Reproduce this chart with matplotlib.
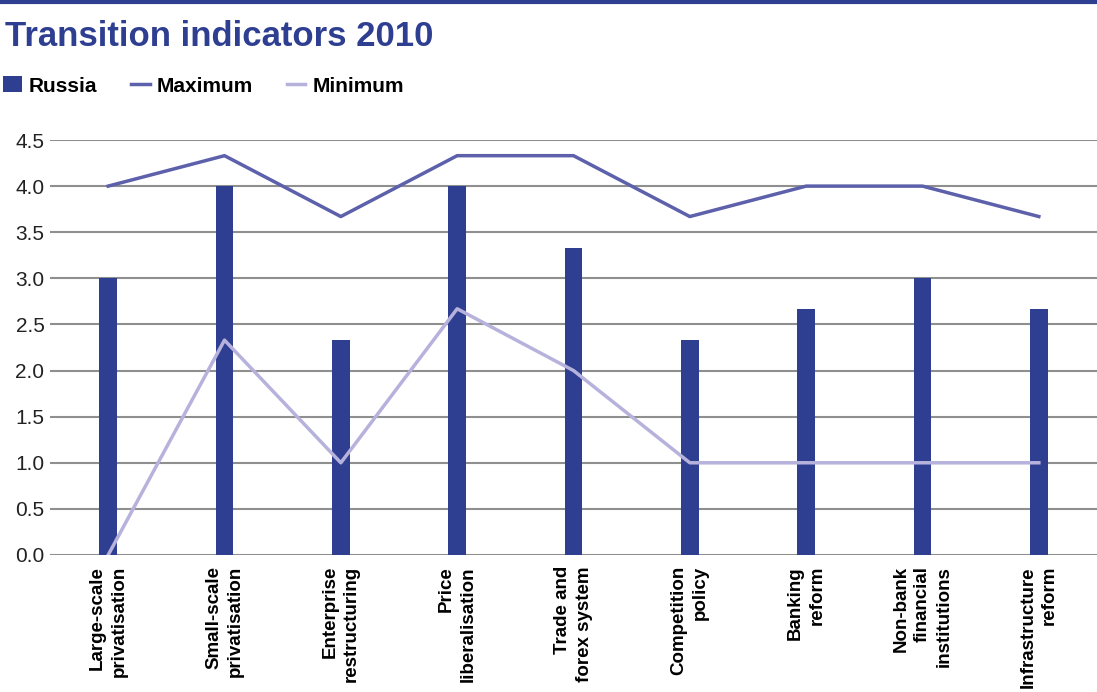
import matplotlib.pyplot as plt
from matplotlib.patches import Patch
from matplotlib.lines import Line2D
import numpy as np

categories = ["Large-scale\nprivatisation", "Small-scale\nprivatisation", "Enterprise\nrestructuring",
              "Price\nliberalisation", "Trade and\nforex system", "Competition\npolicy",
              "Banking\nreform", "Non-bank\nfinancial\ninstitutions", "Infrastructure\nreform"]
russia = [3.0, 4.0, 2.33, 4.0, 3.33, 2.33, 2.67, 3.0, 2.67]
maximum = [4.0, 4.33, 3.67, 4.33, 4.33, 3.67, 4.0, 4.0, 3.67]
minimum = [0.0, 2.33, 1.0, 2.67, 2.0, 1.0, 1.0, 1.0, 1.0]
yticks = [0.0, 0.5, 1.0, 1.5, 2.0, 2.5, 3.0, 3.5, 4.0, 4.5]

dark = "#2e3f91"
maxc = "#5d60aa"
minc = "#b6b2dc"

plt.rcParams['font.family'] = ['Liberation Sans', 'DejaVu Sans']

fig = plt.figure(figsize=(10.97, 6.92), dpi=100)
ax = fig.add_axes([50/1097, 1-555/692, 1-50/1097, (555-140)/692])

x = np.arange(len(categories))
ax.bar(x, russia, width=0.15, color=dark, zorder=2)
ax.plot(x, maximum, color=maxc, lw=2.5, zorder=3)
ax.plot(x, minimum, color=minc, lw=2.5, zorder=3)

ax.set_xlim(-0.5, 8.5)
ax.set_ylim(0, 4.5)
ax.set_yticks(yticks)
ax.set_yticklabels([f"{v:.1f}" for v in yticks], fontsize=15, color="#222222")
ax.yaxis.grid(True, color="#8f8f8f", lw=1.5, zorder=1)
ax.set_axisbelow(True)
ax.tick_params(axis='y', length=0, pad=4)
ax.tick_params(axis='x', length=0, pad=8)
for s in ax.spines.values():
    s.set_visible(False)
ax.set_xticks(x)
ax.set_xticklabels(categories, rotation=90, fontsize=13.5, fontweight='bold',
                   va='top', ha='center', multialignment='right', linespacing=1.35)

# top rule, title, legend
fig.add_artist(Line2D([0, 1], [1-2/692, 1-2/692], color=dark, lw=3))
fig.text(5/1097, 1-36/692, "Transition indicators 2010", fontsize=25, fontweight='bold',
         color=dark, va='center')
handles = [Patch(facecolor=dark, edgecolor='none'),
           Line2D([], [], color=maxc, lw=2.5),
           Line2D([], [], color=minc, lw=2.5)]
leg = fig.legend(handles, ["Russia", "Maximum", "Minimum"], loc='center left',
                 bbox_to_anchor=(3/1097, 1-86/692), ncol=3, frameon=False,
                 prop={'weight': 'bold', 'size': 15}, handlelength=0.9, handleheight=0.8,
                 handletextpad=0.35, columnspacing=1.6, borderaxespad=0, borderpad=0)

fig.savefig("out.png", dpi=100)
